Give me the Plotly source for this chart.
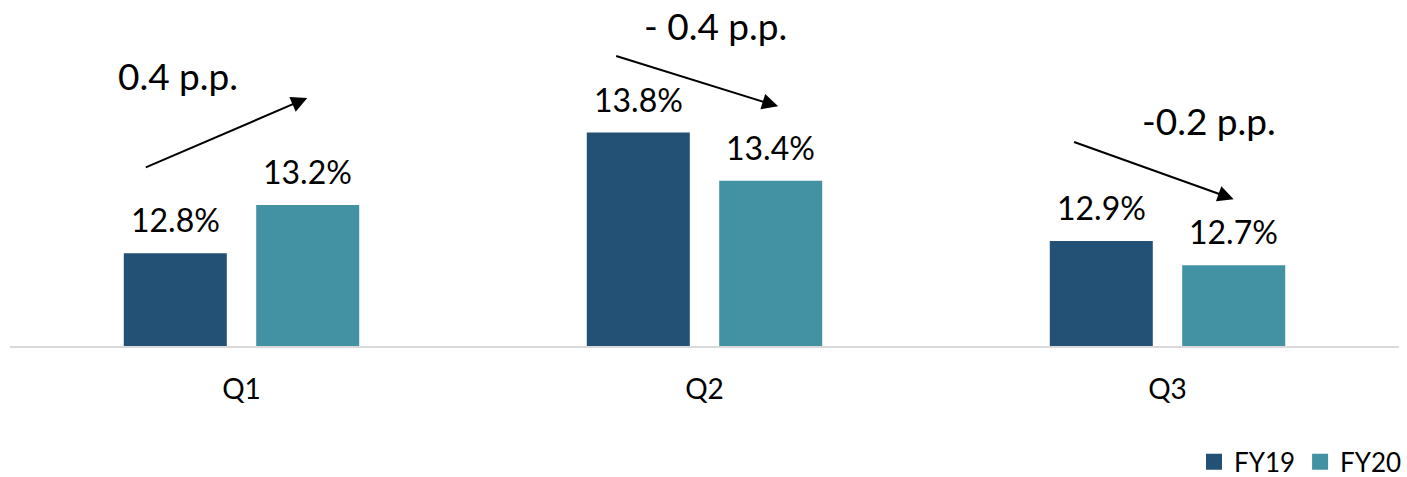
import plotly.graph_objects as go

categories = ["Q1", "Q2", "Q3"]
fy19 = [12.8, 13.8, 12.9]
fy20 = [13.2, 13.4, 12.7]
series_names = ["FY19", "FY20"]
colors = ["#235175", "#4292A3"]
change_labels = ["0.4 p.p.", "- 0.4 p.p.", "-0.2 p.p."]

FONT = "Lato"
BARGAP = 0.428
BARGROUPGAP = 0.222
slot = (1 - BARGAP) / 2  # width of one bar slot in category units
offs = [-slot / 2, slot / 2]

fig = go.Figure()
for name, vals, col in zip(series_names, [fy19, fy20], colors):
    fig.add_trace(go.Bar(x=categories, y=vals, name=name, marker_color=col,
                         marker_line_width=0, showlegend=False))
    # legend proxy with a larger square symbol
    fig.add_trace(go.Scatter(x=[None], y=[None], mode="markers", name=name,
                             marker=dict(symbol="square", size=18, color=col)))

annotations = []
# value labels above bars
for s, vals in enumerate([fy19, fy20]):
    for i, v in enumerate(vals):
        annotations.append(dict(x=i + offs[s], y=v, xref="x", yref="y",
                                text=f"{v:.1f}%", showarrow=False,
                                yanchor="bottom", yshift=12,
                                font=dict(family=FONT, size=32, color="#000000")))

# arrows between bars (tail -> head in data units relative to categories)
arrow_tail = [(-0.210, 13.506), (0.806, 14.439), (1.795, 13.727)]
arrow_head = [(0.142, 14.087), (1.159, 14.018), (2.143, 13.248)]
text_pos = [(-0.138, 14.275), (1.024, 14.69), (2.090, 13.90)]
for (tx, ty), (hx, hy), (lx, ly), lab in zip(arrow_tail, arrow_head, text_pos, change_labels):
    annotations.append(dict(x=hx, y=hy, ax=tx, ay=ty, xref="x", yref="y",
                            axref="x", ayref="y", text="", showarrow=True,
                            arrowhead=2, arrowsize=1.6, arrowwidth=2,
                            arrowcolor="#000000"))
    annotations.append(dict(x=lx, y=ly, xref="x", yref="y", text=lab,
                            showarrow=False,
                            font=dict(family=FONT, size=37, color="#000000")))

fig.update_layout(
    width=1407, height=477,
    margin=dict(l=10, r=8, t=0, b=131),
    paper_bgcolor="white", plot_bgcolor="white",
    barmode="group", bargap=BARGAP, bargroupgap=BARGROUPGAP,
    font=dict(family=FONT, color="#000000"),
    annotations=annotations,
    legend=dict(orientation="h", xref="container", yref="container",
                x=1.0, xanchor="right", y=0.032, yanchor="middle",
                font=dict(family=FONT, size=26, color="#000000"),
                itemwidth=30, tracegroupgap=0),
    xaxis=dict(type="category", showline=True, linecolor="#D9D9D9", linewidth=2,
               ticks="", tickfont=dict(family=FONT, size=28, color="#000000"),
               ticklabelstandoff=17, showgrid=False, zeroline=False,
               range=[-0.5, 2.5]),
    yaxis=dict(range=[12.03, 14.90], visible=False, showgrid=False, zeroline=False),
)

fig.write_html("out.html")
